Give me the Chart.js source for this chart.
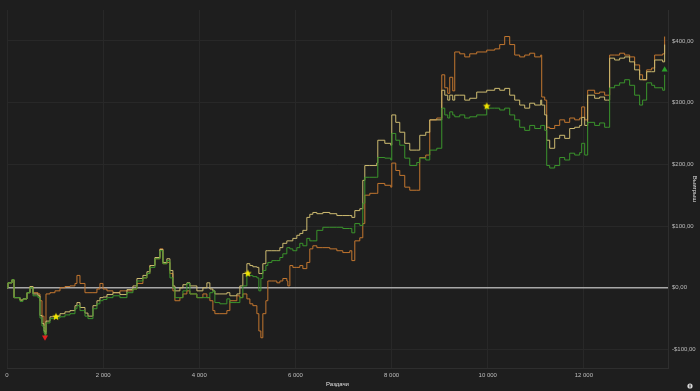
<!DOCTYPE html>
<html lang="ru">
<head>
<meta charset="UTF-8">
<title>Выигрыш</title>
<script src="https://cdn.jsdelivr.net/npm/chart.js"></script>
<style>
  html, body { margin: 0; padding: 0; background: #1e1e1e; }
  #wrap { width: 700px; height: 391px; }
</style>
</head>
<body>
<div id="wrap"><canvas id="chartWin" width="700" height="391"></canvas></div>
<script>
  // раздачи (hands)
  const hands = [0, 21, 104, 146, 270, 333, 416, 478, 541, 644, 686, 728, 769, 790, 811, 894, 998, 1102, 1206, 1310,
    1414, 1455, 1518, 1622, 1684, 1788, 1871, 1933, 1996, 2079, 2204, 2349, 2495, 2620, 2703, 2827, 2911, 2973, 3077, 3181,
    3243, 3326, 3389, 3451, 3493, 3597, 3659, 3742, 3805, 3950, 4075, 4158, 4220, 4283, 4324, 4428, 4574, 4636, 4782, 4844,
    4906, 4990, 5052, 5114, 5198, 5239, 5281, 5322, 5385, 5426, 5509, 5613, 5676, 5738, 5821, 5842, 5884, 5946, 6029, 6091,
    6154, 6237, 6299, 6362, 6445, 6570, 6715, 6861, 6985, 7131, 7173, 7235, 7339, 7401, 7443, 7547, 7692, 7713, 7859, 7983,
    8004, 8087, 8170, 8274, 8378, 8524, 8586, 8711, 8794, 8940, 9044, 9106, 9168, 9210, 9272, 9314, 9418, 9522, 9626, 9771,
    9979, 10146, 10249, 10353, 10457, 10561, 10665, 10769, 10873, 10977, 11102, 11123, 11185, 11227, 11289, 11393, 11497, 11601, 11705, 11809,
    11913, 11954, 12017, 12079, 12224, 12328, 12432, 12495, 12536, 12640, 12744, 12848, 12952, 13056, 13160, 13222, 13306, 13410, 13472, 13639,
    13680];

  const greenWin = [0, 8, 13, -16, -22, -18, -8, 0, -13, -16, -49, -62, -73, -78, -57, -50, -49, -47, -44, -42,
    -34, -29, -37, -46, -50, -34, -26, -21, -19, -16, -13, -16, -8, -2, 11, 16, 23, 33, 47, 60,
    39, 44, 16, 0, -16, -16, -5, 7, -10, -16, -16, -16, -8, -5, -24, -26, -18, -24, -24, -16,
    3, 20, 20, 18, 16, -5, 15, 28, 36, 41, 44, 44, 49, 55, 65, 65, 63, 60, 65, 72,
    68, 80, 76, 76, 93, 98, 98, 98, 96, 96, 89, 104, 101, 137, 179, 179, 179, 211, 210, 207,
    250, 239, 231, 210, 198, 203, 210, 207, 223, 226, 291, 280, 275, 285, 280, 277, 280, 275, 277, 280,
    291, 291, 288, 291, 280, 272, 260, 255, 263, 258, 263, 263, 255, 198, 194, 198, 211, 207, 218, 215,
    219, 234, 215, 268, 263, 267, 260, 260, 324, 328, 332, 337, 328, 312, 296, 304, 332, 328, 324, 320,
    345];

  const yellowWin = [0, 8, 13, -16, -20, -18, -8, 2, -10, -13, -45, -58, -70, -75, -54, -47, -46, -42, -39, -37,
    -29, -24, -32, -41, -46, -29, -21, -16, -15, -11, -8, -11, -3, 3, 15, 20, 26, 36, 49, 62,
    41, 47, 28, 3, -5, 0, 5, 8, 3, -5, 0, 8, -2, -5, -10, -10, -8, -13, -10, 3,
    23, 39, 36, 34, 33, 23, 23, 39, 60, 60, 60, 60, 65, 72, 76, 76, 76, 80, 85, 88,
    93, 114, 119, 122, 120, 122, 120, 117, 117, 117, 114, 125, 128, 174, 198, 198, 202, 239, 234, 231,
    280, 268, 252, 234, 223, 223, 247, 252, 272, 272, 320, 312, 304, 312, 304, 312, 312, 304, 307, 317,
    320, 323, 320, 323, 312, 304, 296, 291, 299, 296, 304, 296, 280, 239, 226, 242, 247, 242, 258, 260,
    263, 276, 263, 312, 307, 309, 304, 304, 372, 369, 372, 374, 366, 353, 337, 337, 350, 350, 369, 366,
    394];

  const orangeWin = [0, 8, 13, -16, -20, -18, -8, 2, -8, -10, -21, -46, -65, -72, -10, -8, -5, 0, 2, 3,
    7, 20, 7, -8, -8, -8, -2, 7, -2, -5, -8, -5, -5, -2, 7, 16, 23, 36, 47, 63,
    39, 41, 23, -5, -21, -16, -10, -5, -10, -16, -10, -16, -21, -37, -42, -42, -37, -21, -13, -16,
    -10, -18, -26, -29, -42, -70, -81, -42, -21, 11, 11, 8, 11, 15, 11, 3, 36, 33, 33, 36,
    31, 41, 63, 68, 65, 65, 63, 60, 57, 60, 44, 76, 81, 104, 150, 153, 153, 169, 166, 163,
    202, 190, 182, 163, 158, 158, 211, 215, 272, 275, 345, 324, 315, 341, 319, 382, 379, 374, 379, 382,
    385, 387, 394, 407, 394, 377, 374, 377, 380, 374, 377, 309, 304, 260, 258, 263, 272, 268, 275, 272,
    275, 293, 272, 320, 315, 317, 312, 312, 377, 377, 380, 377, 374, 361, 345, 337, 353, 356, 377, 379,
    407];

  // отметки на графике
  const lowMark = [{ x: 790, y: -80 }];
  const starMarks = [{ x: 1019, y: -47 }, { x: 5010, y: 23 }, { x: 9979, y: 294 }];
  const endMark = [{ x: 13680, y: 353 }];

  const xTicks = [0, 2000, 4000, 6000, 8000, 10000, 12000];
  const yTicks = [-100, 0, 100, 200, 300, 400];

  const toXY = (vals) => vals.map((v, i) => ({ x: hands[i], y: v }));

  function makeStar(r, color) {
    const c = document.createElement('canvas');
    c.width = c.height = r * 2 + 2;
    const g = c.getContext('2d');
    g.fillStyle = color;
    g.beginPath();
    for (let i = 0; i < 10; i++) {
      const rad = i % 2 === 0 ? r : r * 0.45;
      const a = -Math.PI / 2 + i * Math.PI / 5;
      g.lineTo(r + 1 + rad * Math.cos(a), r + 1 + rad * Math.sin(a));
    }
    g.closePath();
    g.fill();
    return c;
  }

  const fmtHands = v => String(v).replace(/\B(?=(\d{3})+(?!\d))/g, ' ');
  const fmtMoney = v => (v < 0 ? '-$' : '$') + Math.abs(v).toFixed(2).replace('.', ',');

  const bgPlugin = {
    id: 'bg',
    beforeDraw(chart) {
      const ctx = chart.ctx;
      ctx.save();
      ctx.fillStyle = '#1e1e1e';
      ctx.fillRect(0, 0, chart.width, chart.height);
      ctx.restore();
    },
    afterDraw(chart) {
      // маленький значок справа внизу
      const ctx = chart.ctx;
      ctx.save();
      ctx.fillStyle = '#d8d8d8';
      ctx.beginPath();
      ctx.arc(chart.width - 10, chart.height - 5, 2.6, 0, Math.PI * 2);
      ctx.fill();
      ctx.fillStyle = '#1e1e1e';
      ctx.fillRect(chart.width - 10.5, chart.height - 6.5, 1, 3);
      ctx.restore();
    }
  };

  const font = { family: "'Liberation Sans', Arial, sans-serif", size: 6 };

  new Chart(document.getElementById('chartWin'), {
    type: 'line',
    data: {
      datasets: [
        { data: lowMark, type: 'scatter', pointStyle: 'triangle', rotation: 180, pointRadius: 3.5,
          backgroundColor: '#e02020', borderColor: '#e02020', borderWidth: 0 },
        { data: starMarks, type: 'scatter', pointStyle: makeStar(4, '#f2e600'), pointRadius: 4 },
        { data: endMark, type: 'scatter', pointStyle: 'triangle', pointRadius: 3.5,
          backgroundColor: '#2aa02a', borderColor: '#2aa02a', borderWidth: 0 },
        { label: 'green', data: toXY(greenWin), borderColor: '#3a942c', borderWidth: 1 },
        { label: 'yellow', data: toXY(yellowWin), borderColor: '#cdbb70', borderWidth: 1 },
        { label: 'orange', data: toXY(orangeWin), borderColor: '#c2762f', borderWidth: 1 }
      ]
    },
    options: {
      responsive: false,
      animation: false,
      layout: { padding: { left: 7, top: 10, right: 0, bottom: 0 } },
      elements: {
        point: { radius: 0 },
        line: { stepped: true, tension: 0, fill: false }
      },
      plugins: { legend: { display: false }, tooltip: { enabled: false } },
      scales: {
        x: {
          type: 'linear', min: 0, max: 13750,
          afterBuildTicks: s => { s.ticks = xTicks.map(v => ({ value: v })); },
          afterFit: s => { s.height = 23; },
          grid: { color: '#282828', drawTicks: false },
          border: { color: '#2e2e2e' },
          ticks: { color: '#bdbdbd', font, padding: 4, maxRotation: 0, callback: fmtHands },
          title: { display: true, text: 'Раздачи', color: '#e0e0e0', font, padding: { top: 2, bottom: 3 } }
        },
        y: {
          position: 'right', min: -130, max: 450,
          afterBuildTicks: s => { s.ticks = yTicks.map(v => ({ value: v })); },
          afterFit: s => { s.width = 32; },
          grid: {
            drawTicks: false,
            color: c => c.tick && c.tick.value === 0 ? '#a8a8a8' : '#282828',
            lineWidth: c => c.tick && c.tick.value === 0 ? 1.5 : 1
          },
          border: { color: '#2e2e2e' },
          ticks: { color: '#bdbdbd', font, padding: 4, callback: fmtMoney },
          title: { display: true, text: 'Выигрыш', color: '#e0e0e0', font, padding: 2 }
        }
      }
    },
    plugins: [bgPlugin]
  });
</script>
</body>
</html>
